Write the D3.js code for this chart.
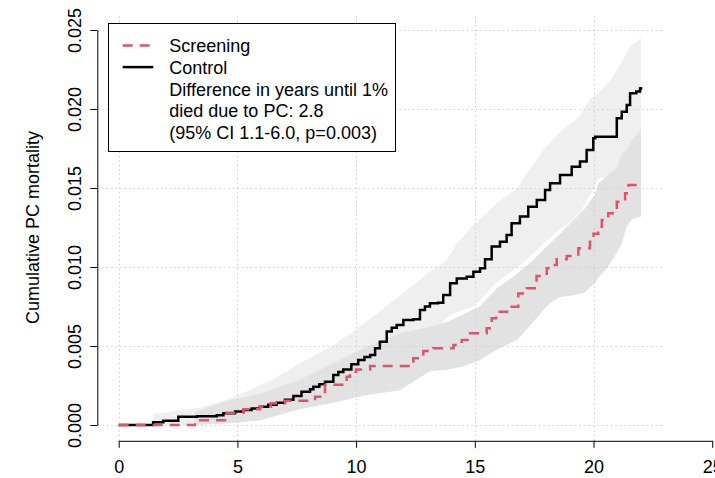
<!DOCTYPE html>
<html>
<head>
<meta charset="utf-8">
<script src="https://cdn.jsdelivr.net/npm/d3@7"></script>
<style>
  html, body { margin: 0; padding: 0; background: #fff; }
  svg { display: block; }
  text { font-family: "Liberation Sans", Arial, sans-serif; fill: #000; }
</style>
</head>
<body>
<svg id="chart" width="715" height="478"></svg>
<script>
// Years of follow-up and cumulative prostate-cancer mortality, control arm
const controlTime = [0, 1.45, 1.88, 2.51, 3.3, 4.13, 4.41, 4.9, 5.25, 5.6, 5.95, 6.3, 6.65, 7.0, 7.36, 7.7, 8.06, 8.2, 8.45, 8.69, 9.04, 9.25, 9.46, 9.8, 10.09, 10.35, 10.59, 10.8, 11.0, 11.29, 11.5, 11.71, 11.99, 12.41, 12.69, 12.9, 13.11, 13.45, 13.67, 13.96, 14.24, 14.66, 14.94, 15.22, 15.43, 15.71, 16.06, 16.34, 16.55, 16.9, 17.25, 17.61, 17.96, 18.17, 18.59, 19.08, 19.43, 19.71, 19.99, 20.07, 20.98, 21.19, 21.4, 21.54, 21.8, 21.96, 22.0];
const controlCum = [0, 0.00017, 0.00027, 0.00053, 0.00056, 0.00062, 0.00075, 0.00085, 0.00095, 0.00105, 0.00116, 0.00128, 0.00141, 0.0016, 0.00184, 0.0021, 0.00226, 0.00242, 0.00258, 0.00274, 0.00316, 0.00335, 0.00352, 0.00385, 0.00411, 0.0043, 0.00443, 0.00485, 0.00527, 0.00591, 0.00615, 0.00633, 0.00665, 0.00669, 0.00728, 0.0075, 0.0077, 0.00774, 0.00823, 0.00897, 0.00928, 0.00939, 0.0097, 0.00992, 0.01049, 0.01129, 0.0116, 0.01203, 0.01277, 0.01319, 0.01382, 0.01424, 0.01487, 0.0153, 0.01582, 0.01635, 0.01667, 0.01741, 0.01815, 0.01825, 0.01941, 0.01983, 0.02025, 0.02099, 0.0211, 0.0213, 0.0214];

// Screening arm
const screenTime = [0, 3.21, 4.48, 5.25, 5.95, 6.4, 7.0, 8.27, 8.69, 9.6, 9.74, 10.0, 10.59, 12.41, 12.83, 13.25, 14.1, 14.45, 14.8, 15.5, 15.71, 15.9, 16.48, 16.83, 17.19, 17.6, 18.03, 18.1, 18.45, 18.87, 19.36, 19.85, 20.0, 20.2, 20.35, 20.62, 20.98, 21.33, 21.47, 21.82];
const screenCum = [0, 0.0003, 0.00078, 0.00099, 0.00116, 0.00137, 0.00154, 0.00179, 0.00255, 0.00306, 0.00337, 0.00352, 0.00373, 0.00422, 0.00468, 0.00485, 0.00506, 0.00538, 0.0058, 0.00612, 0.00675, 0.00717, 0.00749, 0.00833, 0.00865, 0.00943, 0.00992, 0.01013, 0.01049, 0.0107, 0.01118, 0.0116, 0.0121, 0.01255, 0.01297, 0.0134, 0.01413, 0.01466, 0.01519, 0.0154];

// 95% confidence bands
const controlBandTime = [1.45, 2.5, 3.5, 4.5, 5.5, 6.5, 7.6, 9.0, 10.3, 11.7, 13.1, 13.8, 14.2, 14.9, 15.2, 15.9, 16.8, 17.0, 17.9, 18.5, 18.8, 19.4, 19.85, 20.2, 20.7, 21.2, 21.5, 22.0];
const controlLower = [0, 0, 0.00005, 0.00015, 0.0004, 0.0006, 0.001, 0.0017, 0.0025, 0.0038, 0.0053, 0.0068, 0.0071, 0.0075, 0.0079, 0.009, 0.01, 0.0102, 0.0115, 0.0123, 0.0126, 0.0134, 0.0145, 0.0156, 0.0157, 0.0162, 0.0164, 0.0165];
const controlUpper = [0.0007, 0.0009, 0.0011, 0.0016, 0.0022, 0.0029, 0.0039, 0.005, 0.0064, 0.008, 0.0097, 0.0104, 0.0114, 0.0126, 0.013, 0.014, 0.015, 0.0155, 0.0174, 0.0184, 0.0188, 0.0195, 0.0206, 0.021, 0.0218, 0.023, 0.0239, 0.0245];

const screenBandTime = [3.2, 4.5, 6.0, 7.6, 9.0, 10.45, 11.85, 13.1, 13.8, 14.5, 15.2, 15.9, 16.8, 17.5, 17.9, 18.17, 18.6, 19.1, 19.64, 20.07, 20.2, 20.6, 20.98, 21.2, 21.4, 21.6, 22.0];
const screenLower = [0, 0.0001, 0.0003, 0.001, 0.0014, 0.0019, 0.0022, 0.0034, 0.0035, 0.0037, 0.0041, 0.00475, 0.0054, 0.0066, 0.0073, 0.0077, 0.0081, 0.0082, 0.0084, 0.009, 0.0093, 0.01, 0.0109, 0.0115, 0.01255, 0.013, 0.0132];
const screenUpper = [0.0008, 0.0015, 0.002, 0.00285, 0.0039, 0.00496, 0.0058, 0.0062, 0.0065, 0.007, 0.0075, 0.0086, 0.0096, 0.0105, 0.0111, 0.0115, 0.0121, 0.0129, 0.0137, 0.0146, 0.0153, 0.0158, 0.0163, 0.0172, 0.0174, 0.018, 0.0187];

// Axis ticks and labels
const xTicks = [0, 5, 10, 15, 20, 25];
const yTicks = [0, 0.005, 0.010, 0.015, 0.020, 0.025];
const xGrid = [0, 5, 10, 15, 20];
const yLabel = "Cumulative PC mortality";
const legendLabels = ["Screening", "Control", "Difference in years until 1%", "died due to PC: 2.8", "(95% CI 1.1-6.0, p=0.003)"];

const colScreen = "#DF536B";
const colControl = "#000000";
const fontSize = 18;

const svg = d3.select("#chart");

// Plot region (data range padded by 4%)
const x = d3.scaleLinear().domain([-0.88, 22.88]).range([97.8, 661.9]);
const y = d3.scaleLinear().domain([-0.001, 0.026]).range([440.8, 14.2]);

const zip = (ts, vs) => ts.map((t, i) => [t, vs[i]]);
const band = (ts, lo, hi) => ts.map((t, i) => ({t, lo: lo[i], hi: hi[i]}));

const area = d3.area()
  .x(d => x(d.t)).y0(d => y(d.lo)).y1(d => y(d.hi))
  .curve(d3.curveLinear);

svg.append("path")
  .attr("d", area(band(controlBandTime, controlLower, controlUpper)))
  .attr("fill", "#efefef");
svg.append("path")
  .attr("d", area(band(screenBandTime, screenLower, screenUpper)))
  .attr("fill", "#e2e2e2");

// Dotted grid
const grid = svg.append("g")
  .attr("stroke", "#cfcfcf").attr("stroke-width", 1)
  .attr("stroke-dasharray", "1.5,3");
grid.selectAll("line.h").data(yTicks).join("line")
  .attr("x1", x.range()[0]).attr("x2", x.range()[1])
  .attr("y1", d => Math.round(y(d)) + 0.5).attr("y2", d => Math.round(y(d)) + 0.5);
grid.selectAll("line.v").data(xGrid).join("line")
  .attr("y1", y.range()[0]).attr("y2", y.range()[1])
  .attr("x1", d => Math.round(x(d)) + 0.5).attr("x2", d => Math.round(x(d)) + 0.5);

// Step curves
const line = d3.line().x(d => x(d[0])).y(d => y(d[1])).curve(d3.curveStepAfter);
svg.append("path")
  .attr("d", line(zip(controlTime, controlCum)))
  .attr("fill", "none").attr("stroke", colControl).attr("stroke-width", 2.5);
svg.append("path")
  .attr("d", line(zip(screenTime, screenCum)))
  .attr("fill", "none").attr("stroke", colScreen).attr("stroke-width", 2.5)
  .attr("stroke-dasharray", "10,7");

// Axes
const xAxisScale = x.copy().domain([0, 25]).range([x(0), x(25)]);
const xAxis = svg.append("g")
  .attr("transform", `translate(0,${y.range()[0]})`)
  .call(d3.axisBottom(xAxisScale).tickValues(xTicks).tickSize(7).tickSizeOuter(0).tickFormat(d3.format("d")));
xAxis.selectAll("text").attr("font-size", fontSize).attr("y", 32).attr("dy", 0);

const yAxisScale = y.copy().domain([0, 0.025]).range([y(0), y(0.025)]);
const yAxisX = x.range()[0] - 0.5;
const yAxis = svg.append("g")
  .attr("transform", `translate(${yAxisX},0)`)
  .call(d3.axisLeft(yAxisScale).tickValues(yTicks).tickSize(7).tickSizeOuter(0).tickFormat(d3.format(".3f")));
yAxis.selectAll("text")
  .attr("font-size", fontSize).attr("x", 0).attr("dy", 0)
  .attr("text-anchor", "middle")
  .attr("transform", "translate(-16,0) rotate(-90)");

[xAxis, yAxis].forEach(a => {
  a.attr("font-family", null);
  a.selectAll("path, line").attr("stroke", "#000").attr("stroke-width", 1);
});

svg.append("text")
  .attr("transform", `translate(39,${(y.range()[0] + y.range()[1]) / 2}) rotate(-90)`)
  .attr("text-anchor", "middle").attr("font-size", fontSize)
  .text(yLabel);

// Legend
const lg = svg.append("g");
lg.append("rect")
  .attr("x", 108.5).attr("y", 23.5).attr("width", 287).attr("height", 128)
  .attr("fill", "#fff").attr("stroke", "#000").attr("stroke-width", 1);
const rowY = i => 52.3 + i * 21.6;
lg.append("line").attr("x1", 122.7).attr("x2", 153.3).attr("y1", rowY(0) - 6.8).attr("y2", rowY(0) - 6.8)
  .attr("stroke", colScreen).attr("stroke-width", 2.5).attr("stroke-dasharray", "10,7");
lg.append("line").attr("x1", 122.7).attr("x2", 153.3).attr("y1", rowY(1) - 6.8).attr("y2", rowY(1) - 6.8)
  .attr("stroke", colControl).attr("stroke-width", 2.5);
lg.selectAll("text").data(legendLabels).join("text")
  .attr("x", 169.3).attr("y", (d, i) => rowY(i))
  .attr("font-size", fontSize)
  .text(d => d);
</script>
</body>
</html>
